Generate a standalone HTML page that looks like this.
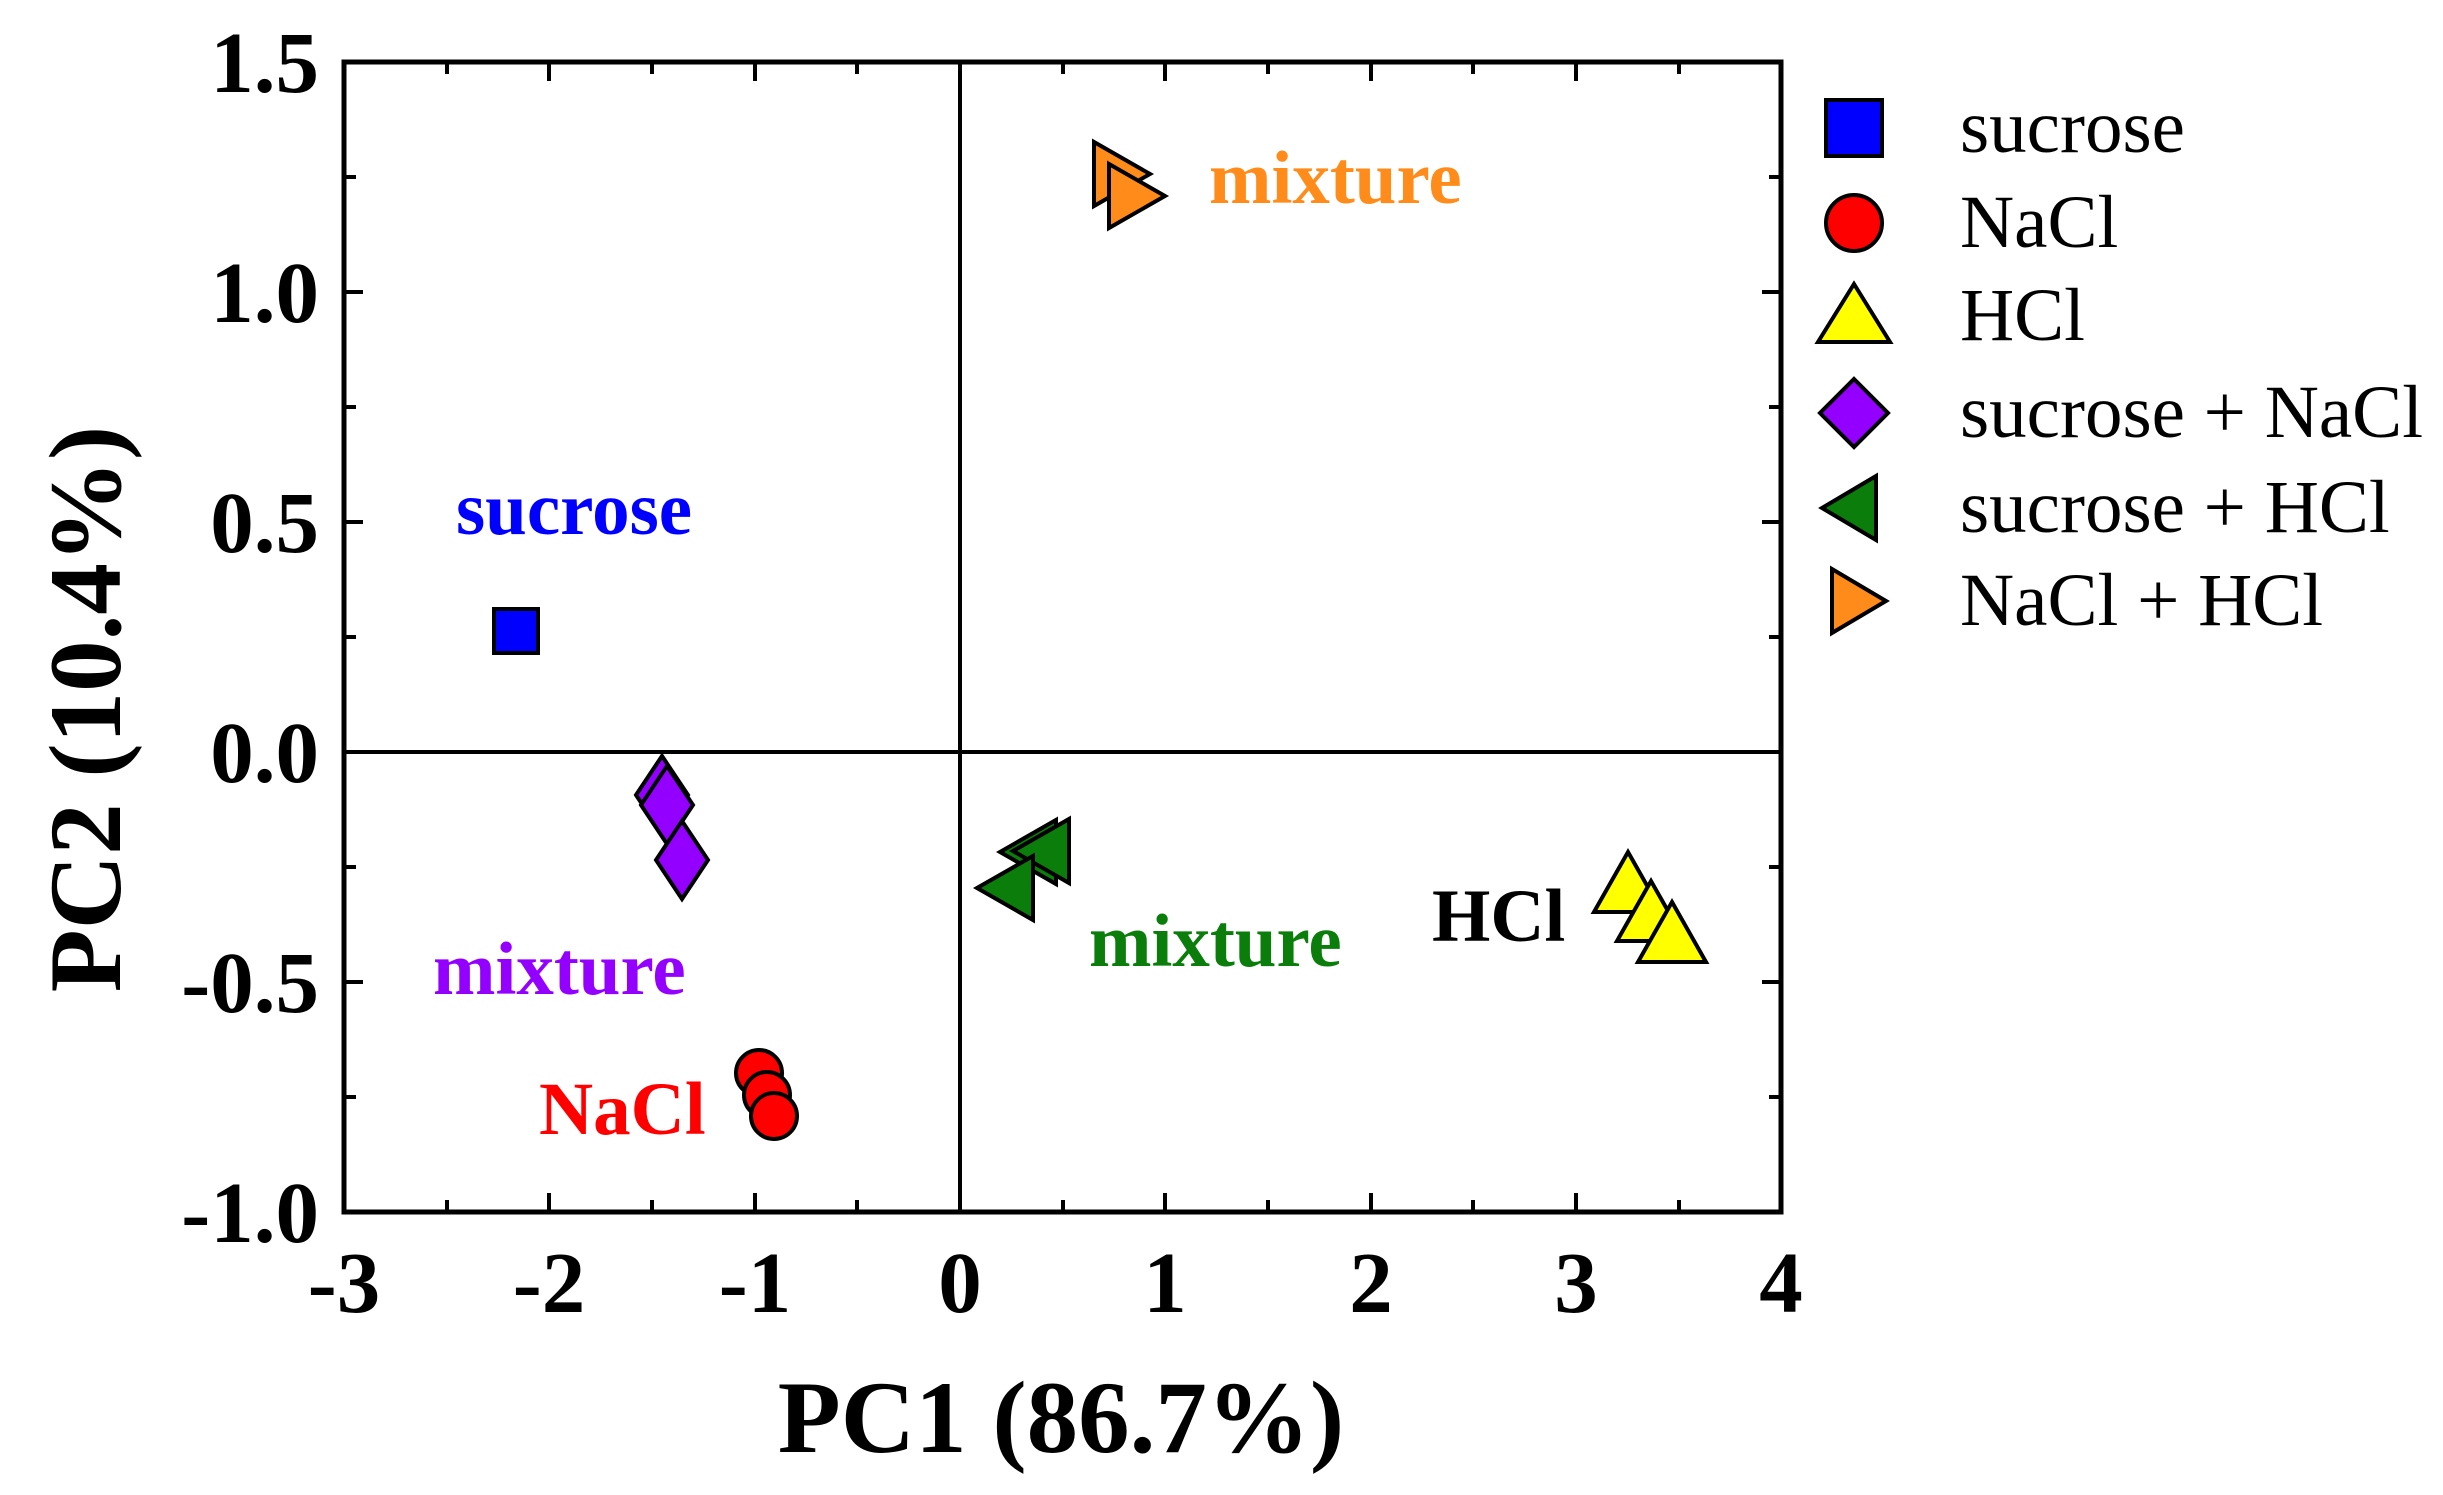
<!DOCTYPE html>
<html><head><style>html,body{margin:0;padding:0;background:#fff}svg{display:block}</style></head>
<body>
<svg width="2443" height="1495" viewBox="0 0 2443 1495" xmlns="http://www.w3.org/2000/svg" font-family="'Liberation Serif', serif">
<rect width="2443" height="1495" fill="#fff"/>
<!-- crosshair -->
<line x1="960" y1="62" x2="960" y2="1212" stroke="#000" stroke-width="4"/>
<line x1="344" y1="752" x2="1781" y2="752" stroke="#000" stroke-width="4"/>
<!-- ticks -->
<g stroke="#000" stroke-width="4">
<!-- x major bottom/top -->
<path d="M344 1212v-19M549 1212v-19M755 1212v-19M960 1212v-19M1165 1212v-19M1371 1212v-19M1576 1212v-19M1781 1212v-19
M344 62v19M549 62v19M755 62v19M960 62v19M1165 62v19M1371 62v19M1576 62v19M1781 62v19
M447 1212v-12M652 1212v-12M857 1212v-12M1063 1212v-12M1268 1212v-12M1473 1212v-12M1679 1212v-12
M447 62v12M652 62v12M857 62v12M1063 62v12M1268 62v12M1473 62v12M1679 62v12
M344 292h19M344 522h19M344 752h19M344 982h19
M1781 292h-19M1781 522h-19M1781 752h-19M1781 982h-19
M344 177h12M344 407h12M344 637h12M344 867h12M344 1097h12
M1781 177h-12M1781 407h-12M1781 637h-12M1781 867h-12M1781 1097h-12"/>
</g>
<rect x="344" y="62" width="1437" height="1150" fill="none" stroke="#000" stroke-width="5"/>
<!-- tick labels -->
<g font-weight="bold" font-size="87" fill="#000">
<g text-anchor="end">
<text x="319" y="92">1.5</text>
<text x="319" y="322">1.0</text>
<text x="319" y="552">0.5</text>
<text x="319" y="782">0.0</text>
<text x="319" y="1012">-0.5</text>
<text x="319" y="1242">-1.0</text>
</g>
<g text-anchor="middle">
<text x="344" y="1312">-3</text>
<text x="549" y="1312">-2</text>
<text x="755" y="1312">-1</text>
<text x="960" y="1312">0</text>
<text x="1165" y="1312">1</text>
<text x="1371" y="1312">2</text>
<text x="1576" y="1312">3</text>
<text x="1781" y="1312">4</text>
</g>
<text x="1061" y="1452" text-anchor="middle" font-size="103">PC1 (86.7%)</text>
<text transform="translate(120,709) rotate(-90)" text-anchor="middle" font-size="103">PC2 (10.4%)</text>
</g>
<!-- data -->
<g stroke="#000" stroke-width="4" stroke-linejoin="miter">
<rect x="494" y="609" width="44" height="44" fill="#0000ff"/>
<path d="M662 756l26 39l-26 39l-26 -39z" fill="#9400ff"/>
<path d="M667 766l26 39l-26 39l-26 -39z" fill="#9400ff"/>
<path d="M682 821l26 39l-26 39l-26 -39z" fill="#9400ff"/>
<circle cx="759" cy="1073" r="23" fill="#ff0000"/>
<circle cx="767" cy="1095" r="23" fill="#ff0000"/>
<circle cx="774" cy="1116" r="23" fill="#ff0000"/>
<path d="M1000 852l56 -32v64z" fill="#0a7d0a"/>
<path d="M1013 851l56 -32v64z" fill="#0a7d0a"/>
<path d="M977 888l56 -32v64z" fill="#0a7d0a"/>
<path d="M1628 852l34 60h-68z" fill="#ffff00"/>
<path d="M1651 881l34 60h-68z" fill="#ffff00"/>
<path d="M1672 902l34 60h-68z" fill="#ffff00"/>
<path d="M1150 174l-56 -32v64z" fill="#ff8c1a"/>
<path d="M1165 196l-56 -32v64z" fill="#ff8c1a"/>
</g>
<!-- annotations -->
<g font-weight="bold" font-size="75">
<text x="456" y="534" fill="#0000ff">sucrose</text>
<text x="433" y="994" fill="#9400ff">mixture</text>
<text x="539" y="1134" fill="#ff0000">NaCl</text>
<text x="1089" y="966" fill="#0a7d0a">mixture</text>
<text x="1432" y="941" fill="#000">HCl</text>
<text x="1209" y="203" fill="#ff8c1a">mixture</text>
</g>
<!-- legend -->
<g stroke="#000" stroke-width="4">
<rect x="1826" y="100" width="56" height="56" fill="#0000ff"/>
<circle cx="1854" cy="223" r="28" fill="#ff0000"/>
<path d="M1854 284l36 58h-72z" fill="#ffff00"/>
<path d="M1854 379l34 34l-34 34l-34 -34z" fill="#9400ff"/>
<path d="M1822 508l54 -32v64z" fill="#0a7d0a"/>
<path d="M1886 601l-54 -32v64z" fill="#ff8c1a"/>
</g>
<g font-size="75" fill="#000">
<text x="1960" y="152">sucrose</text>
<text x="1960" y="247">NaCl</text>
<text x="1960" y="340">HCl</text>
<text x="1960" y="437">sucrose + NaCl</text>
<text x="1960" y="532">sucrose + HCl</text>
<text x="1960" y="625">NaCl + HCl</text>
</g>
</svg>
</body></html>
